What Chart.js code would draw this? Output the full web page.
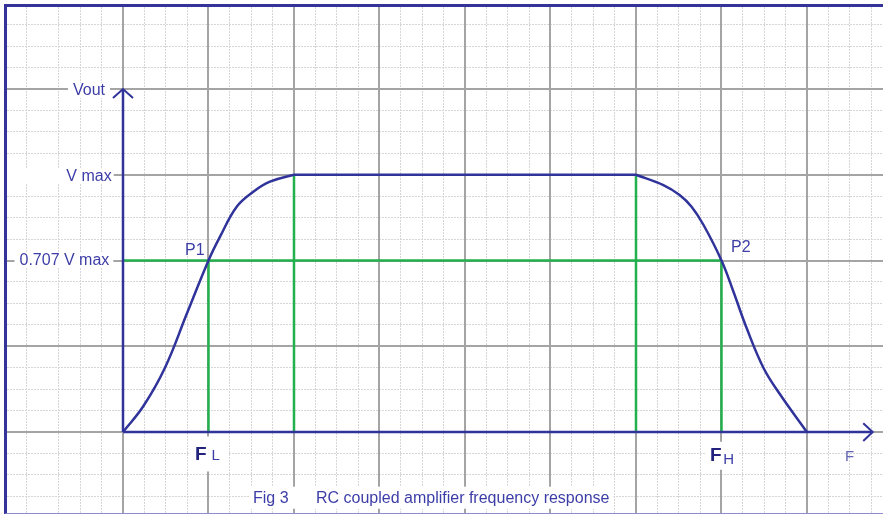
<!DOCTYPE html>
<html>
<head>
<meta charset="utf-8">
<script src="https://cdn.jsdelivr.net/npm/chart.js@4.4.0/dist/chart.umd.min.js"></script>
<style>
html, body { margin: 0; padding: 0; background: #fff; }
#frame {
	position: absolute; left: 4px; top: 4px; width: 876px; height: 506px;
	border-left: 3px solid #333399; border-top: 3px solid #333399; border-bottom: 1px solid #8c8cd0;
}
#frame canvas { display: block; }
</style>
</head>
<body>
<div id="frame"><canvas id="response" width="876" height="506"></canvas></div>
<script>
// curve, in grid units (one unit = one major square)
var riseX = [0, 0.237, 0.491, 0.745, 1, 1.135, 1.33, 1.524, 1.719, 2];
var riseY = [0, 0.3, 0.75, 1.375, 2, 2.278, 2.627, 2.802, 2.919, 3];
var fallX = [6, 6.32, 6.51, 6.65, 6.79, 7, 7.14, 7.295, 7.49, 7.684, 7.977, 8];
var fallY = [3, 2.88, 2.764, 2.627, 2.414, 2, 1.636, 1.209, 0.75, 0.44, 0.03, 0];

// green guide lines: half power level and the drops to the F axis
var halfPowerY = 2;
var halfPowerEndX = 7;
var dropX = [1, 2, 6, 7];
var dropY = [2, 3, 3, 2];

// axes and arrow heads
var axisTopY = 4;
var axisEndX = 8.768;
var yArrowX = [-0.117, 0, 0.117];
var yArrowY = [3.895, 4, 3.895];
var xArrowX = [8.658, 8.768, 8.658];
var xArrowY = [0.101, 0, -0.105];

// grid lines
var majorX = [0, 1, 2, 3, 4, 5, 6, 7, 8];
var majorY = [0, 1, 2, 3, 4];
var minorX = [-1.125];
for (var i = -3; i <= 35; i++) minorX.push(i / 4);
var minorY = [];
for (var j = -3; j <= 19; j++) minorY.push(j / 4);

var navy = '#30339a';
var green = '#22b14c';
var ink = '#3d3da8';

function pts(xs, ys) {
	return xs.map(function (x, k) { return { x: x, y: ys[k] }; });
}

var labels = [
	{ x: -0.2105, y: 3.93, align: 'right', parts: [{ t: 'Vout', font: '16px' }], pad: [5, 12, 5, 3] },
	{ x: -0.132, y: 2.931, align: 'right', parts: [{ t: 'V max', font: '16px' }], pad: [60, 12, 2, 3] },
	{ x: -0.160, y: 1.948, align: 'right', parts: [{ t: '0.707 V max', font: '16px' }], pad: [5, 12, 4, 3] },
	{ x: 0.725, y: 2.064, align: 'left', parts: [{ t: 'P1', font: '16px' }] },
	{ x: 7.111, y: 2.096, align: 'left', parts: [{ t: 'P2', font: '16px' }] },
	{ x: 0.842, y: -0.332, align: 'left', parts: [{ t: 'F', font: 'bold 19px', color: '#23237e' }, { t: 'L', font: '15px', gap: 5 }], pad: [5, 24, 8, 11] },
	{ x: 6.866, y: -0.335, align: 'left', parts: [{ t: 'F', font: 'bold 19px', color: '#23237e' }, { t: 'H', font: '15px', gap: 1.5, dy: 3.3 }], pad: [4, 19, 4, 9] },
	{ x: 8.444, y: -0.335, align: 'left', parts: [{ t: 'F', font: '15px', color: '#6565b5' }] },
	{ x: 1.52, y: -0.8245, align: 'left', parts: [{ t: 'Fig 3', font: '16px' }], pad: [3, 16, 3, 6] },
	{ x: 2.257, y: -0.8245, align: 'left', parts: [{ t: 'RC coupled amplifier frequency response', font: '16px' }], pad: [26, 16, 4, 6] }
];

var FONT = '"Liberation Sans", Arial, sans-serif';

var labelPlugin = {
	id: 'labels',
	afterDraw: function (chart) {
		var ctx = chart.ctx;
		var sx = chart.scales.x, sy = chart.scales.y;
		ctx.save();
		ctx.textBaseline = 'alphabetic';
		ctx.textAlign = 'left';
		labels.forEach(function (lb) {
			var total = 0;
			lb.parts.forEach(function (p) {
				ctx.font = p.font + ' ' + FONT;
				p.w = ctx.measureText(p.t).width;
				total += (p.gap || 0) + p.w;
			});
			var px = sx.getPixelForValue(lb.x);
			var base = sy.getPixelForValue(lb.y);
			var start = lb.align === 'right' ? px - total : px;
			if (lb.pad) {
				var pd = lb.pad;
				var left = Math.max(chart.chartArea.left, start - pd[0]);
				ctx.fillStyle = '#fff';
				ctx.fillRect(left, base - pd[1], start + total + pd[2] - left, pd[1] + pd[3]);
			}
			var cx = start;
			lb.parts.forEach(function (p) {
				cx += p.gap || 0;
				ctx.font = p.font + ' ' + FONT;
				ctx.fillStyle = p.color || ink;
				ctx.fillText(p.t, cx, base + (p.dy || 0));
				cx += p.w;
			});
		});
		ctx.restore();
	}
};

function ticksFrom(list) {
	return function (scale) {
		scale.ticks = list.map(function (v) { return { value: v }; });
	};
}

function gridScale(axis, min, max, list, major) {
	return {
		type: 'linear',
		axis: axis,
		position: axis === 'x' ? 'bottom' : 'left',
		min: min,
		max: max,
		afterBuildTicks: ticksFrom(list),
		ticks: { display: false },
		grid: {
			color: major ? '#a4a4a4' : '#d6d6d6',
			lineWidth: major ? 2 : 1,
			drawTicks: false,
			z: major ? -1 : -2
		},
		border: { display: false, dash: major ? [] : [2, 1] }
	};
}

var X_MIN = -1.3567, X_MAX = 8.8889;
var Y_MIN = -0.9446, Y_MAX = 4.9563;

function lineSet(data, color, width, order) {
	return {
		data: data,
		borderColor: color,
		borderWidth: width,
		pointRadius: 0,
		fill: false,
		order: order,
		xAxisID: 'x',
		yAxisID: 'y'
	};
}

var datasets = [];
// rise, flat top and fall of the response
var riseSet = lineSet(pts(riseX, riseY), navy, 2.5, 0);
riseSet.tension = 0.4;
var fallSet = lineSet(pts(fallX, fallY), navy, 2.5, 0);
fallSet.tension = 0.4;
datasets.push(riseSet, fallSet);
datasets.push(lineSet([{ x: riseX[riseX.length - 1], y: riseY[riseY.length - 1] }, { x: fallX[0], y: fallY[0] }], navy, 2.5, 0));
datasets.push(lineSet([{ x: 0, y: 0 }, { x: 0, y: axisTopY }], navy, 2.5, 1));
datasets.push(lineSet([{ x: 0, y: 0 }, { x: axisEndX, y: 0 }], navy, 2.5, 1));
datasets.push(lineSet(pts(yArrowX, yArrowY), navy, 2, 1));
datasets.push(lineSet(pts(xArrowX, xArrowY), navy, 2, 1));
datasets.push(lineSet([{ x: 0, y: halfPowerY }, { x: halfPowerEndX, y: halfPowerY }], green, 2.5, 2));
dropX.forEach(function (x, k) {
	datasets.push(lineSet([{ x: x, y: 0 }, { x: x, y: dropY[k] }], green, 2.5, 2));
});

var responseChart = {
	type: 'line',
	data: { datasets: datasets },
	options: {
		responsive: false,
		animation: false,
		events: [],
		layout: { padding: 0 },
		plugins: {
			legend: { display: false },
			tooltip: { enabled: false },
			title: { display: false }
		},
		scales: {
			xm: gridScale('x', X_MIN, X_MAX, minorX, false),
			ym: gridScale('y', Y_MIN, Y_MAX, minorY, false),
			x: gridScale('x', X_MIN, X_MAX, majorX, true),
			y: gridScale('y', Y_MIN, Y_MAX, majorY, true)
		}
	},
	plugins: [labelPlugin]
};

window.onload = function () {
	var ctx = document.getElementById('response').getContext('2d');
	window.myResponse = new Chart(ctx, responseChart);
};
</script>
</body>
</html>
